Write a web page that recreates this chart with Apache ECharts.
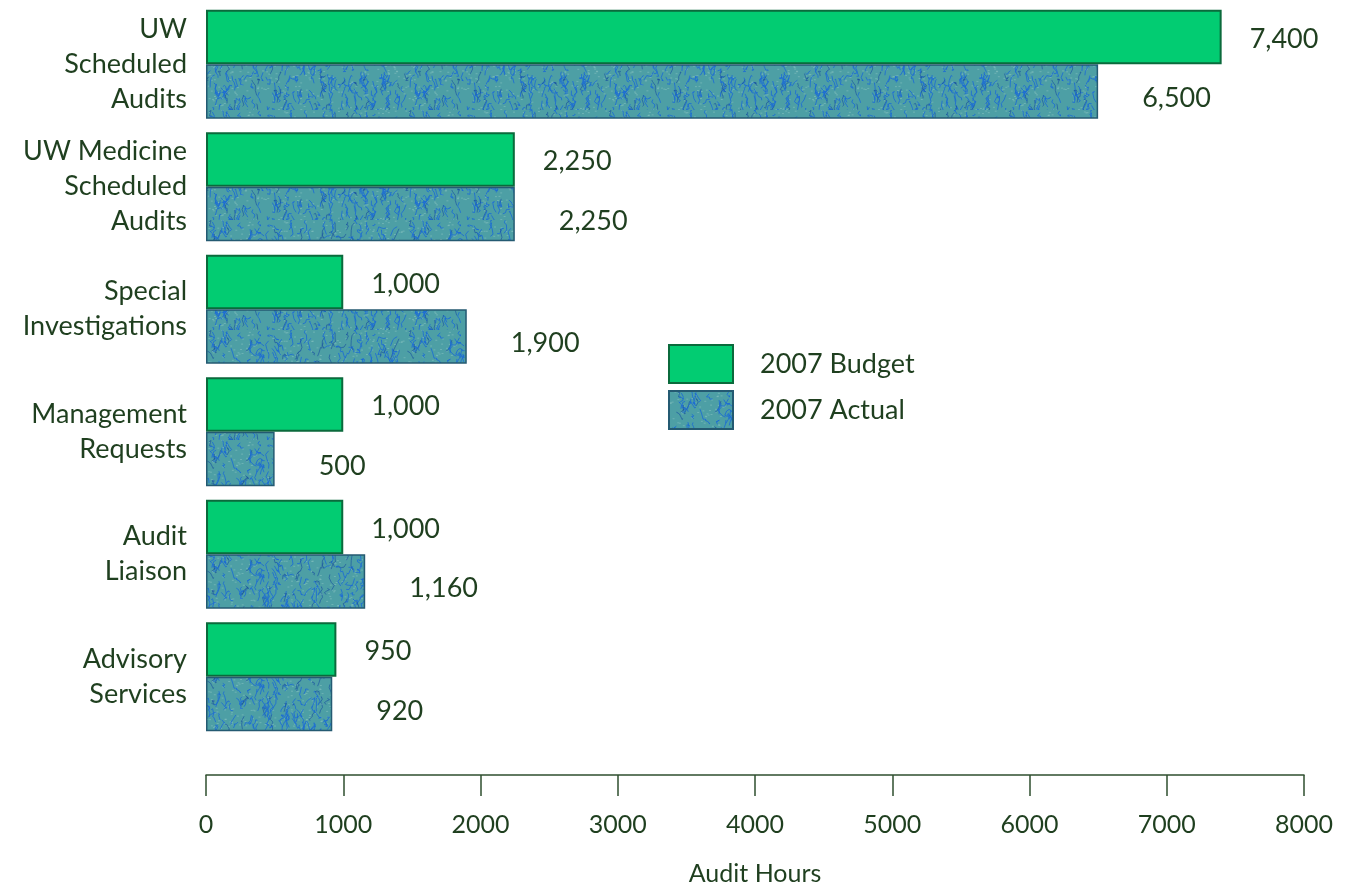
<!DOCTYPE html>
<html>
<head>
<meta charset="utf-8">
<script src="https://cdn.jsdelivr.net/npm/echarts@6/dist/echarts.min.js"></script>
<style>
html,body{margin:0;padding:0;background:#fff;}
#main{width:1353px;height:886px;}
</style>
</head>
<body>
<div id="main"></div>
<script>
var categories = ['UW\nScheduled\nAudits', 'UW Medicine\nScheduled\nAudits', 'Special\nInvestigations', 'Management\nRequests', 'Audit\nLiaison', 'Advisory\nServices'];
var budget2007 = [7400, 2250, 1000, 1000, 1000, 950];
var actual2007 = [6500, 2250, 1900, 500, 1160, 920];
var xTicks = [0, 1000, 2000, 3000, 4000, 5000, 6000, 7000, 8000];

// texture for the "Actual" bars (style only)
function makeTexture() {
  var c = document.createElement('canvas');
  c.width = 200; c.height = 110;
  var g = c.getContext('2d');
  g.fillStyle = '#4d9fa5';
  g.fillRect(0, 0, c.width, c.height);
  var s = 98765;
  function rnd() { s = (s * 16807) % 2147483647; return s / 2147483647; }
  for (var j = 0; j < 500; j++) {
    g.fillStyle = 'rgba(150,205,200,0.45)';
    g.fillRect(rnd() * c.width, rnd() * c.height, 2, 1);
  }
  for (var i = 0; i < 420; i++) {
    var x = rnd() * c.width, y = rnd() * c.height;
    g.strokeStyle = rnd() < 0.8 ? 'rgba(25,105,215,0.8)' : 'rgba(20,75,160,0.6)';
    g.lineWidth = 1;
    g.beginPath();
    g.moveTo(x, y);
    for (var k = 0; k < 4; k++) {
      x += (rnd() - 0.5) * 6; y += (rnd() - 0.2) * 7;
      g.lineTo(x, y);
    }
    g.stroke();
  }
  return c;
}
var tex = makeTexture();

var txt = '#1f3f1f';
var font = 'Lato';
var chart = echarts.init(document.getElementById('main'));
chart.setOption({
  backgroundColor: '#ffffff',
  animation: false,
  textStyle: { fontFamily: font, color: txt },
  grid: { left: 206, right: 49, top: 3, bottom: 148, containLabel: false, outerBoundsMode: 'none' },
  legend: {
    orient: 'vertical', left: 663, top: 339,
    itemWidth: 64, itemHeight: 38, itemGap: 6,
    textStyle: { fontFamily: font, fontSize: 27, color: txt, padding: [0, 0, 0, 22] },
    data: [{ name: '2007 Budget', icon: 'rect' }, { name: '2007 Actual', icon: 'rect' }]
  },
  xAxis: {
    type: 'value', min: 0, max: 8000, interval: 1000,
    offset: 37,
    name: 'Audit Hours', nameLocation: 'middle', nameGap: 86,
    nameTextStyle: { fontFamily: font, fontSize: 25, color: txt },
    axisLine: { show: true, lineStyle: { color: '#2f4f2f', width: 1.5 } },
    axisTick: { show: true, length: 21, lineStyle: { color: '#2f4f2f', width: 1.5 } },
    axisLabel: { fontFamily: font, fontSize: 25, color: txt, margin: 37,
      formatter: function (v) { return xTicks.indexOf(v) >= 0 ? String(v) : ''; } },
    splitLine: { show: false }
  },
  yAxis: {
    type: 'category', inverse: true, data: categories,
    axisLine: { show: false }, axisTick: { show: false },
    axisLabel: { fontFamily: font, fontSize: 27, color: txt, lineHeight: 35, margin: 19, align: 'right',
      verticalAlign: 'middle', padding: [10, 0, 0, 0] }
  },
  series: [
    {
      name: '2007 Budget', type: 'bar', data: budget2007,
      barGap: '0%', barCategoryGap: '11%',
      itemStyle: { color: '#02cc72', borderColor: '#0b6a3c', borderWidth: 2 },
      label: { show: true, position: 'right', distance: 28, offset: [0, 2],
        fontFamily: font, fontSize: 27, color: txt,
        formatter: function (p) { return p.value.toLocaleString('en-US'); } }
    },
    {
      name: '2007 Actual', type: 'bar', data: actual2007,
      itemStyle: { color: { image: tex, repeat: 'repeat' }, borderColor: '#245a72', borderWidth: 1.5 },
      label: { show: true, position: 'right', distance: 44, offset: [0, 7],
        fontFamily: font, fontSize: 27, color: txt,
        formatter: function (p) { return p.value.toLocaleString('en-US'); } }
    }
  ]
});
</script>
</body>
</html>
